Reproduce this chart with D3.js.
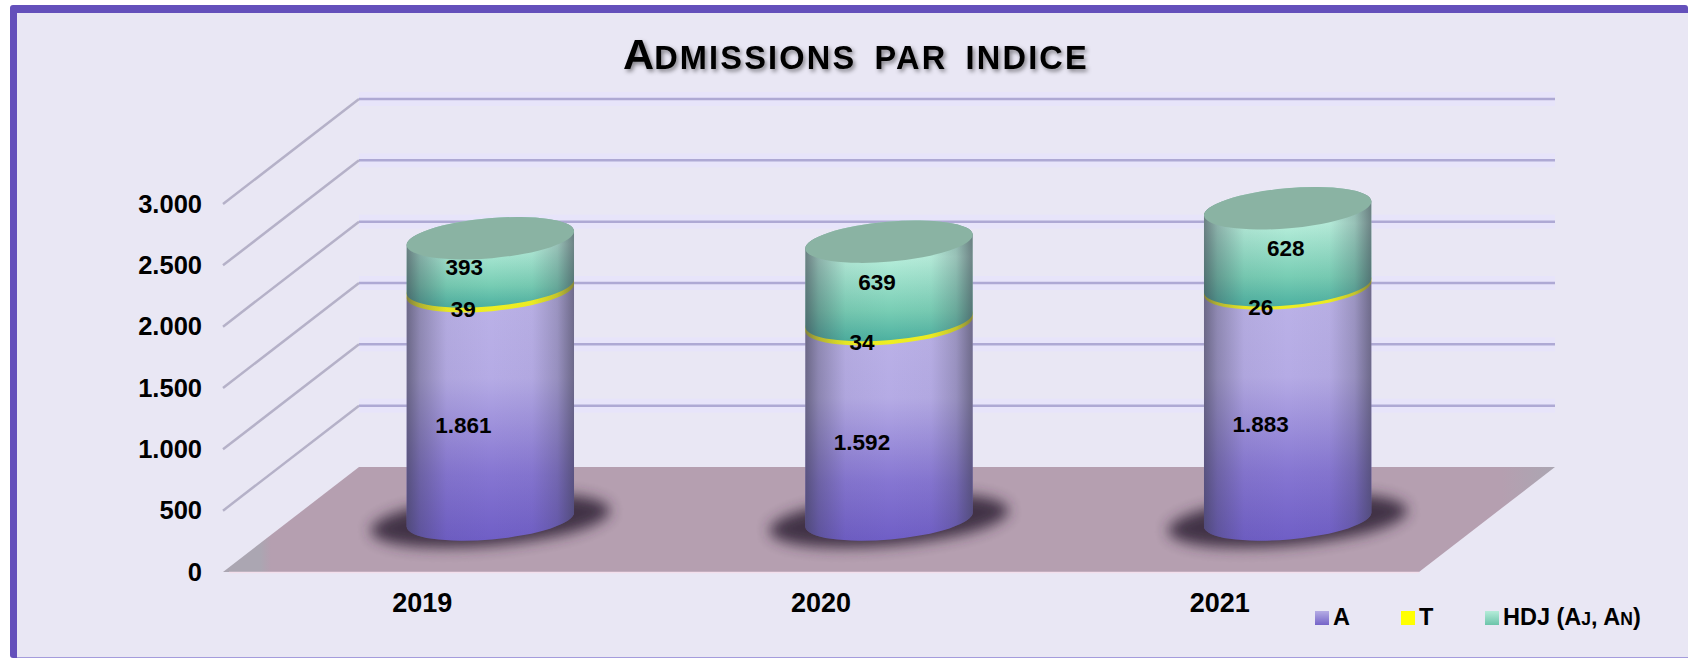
<!DOCTYPE html>
<html lang="fr">
<head>
  <meta charset="UTF-8">
  <title>Admissions par indice</title>
  <script src="https://d3js.org/d3.v7.min.js"></script>
  <style>
    html, body { margin: 0; background: #ffffff; overflow: hidden; }
    svg { display: block; }
    text { font-family: "Liberation Sans", Arial, sans-serif; font-weight: 700; fill: #000000; }
    .axis text { font-size: 25.5px; }
    .axis.cat text { font-size: 27px; }
    .value { font-size: 22.5px; text-anchor: middle; dominant-baseline: central; }
    .legend text { font-size: 23.5px; }
  </style>
</head>
<body>
  <svg id="chart" width="1688" height="658"></svg>

  <script>
    // data
    const years = ["2019", "2020", "2021"];
    const seriesNames = ["A", "T", "HDJ"];
    const valuesA = [1861, 1592, 1883];
    const valuesT = [39, 34, 26];
    const valuesHDJ = [393, 639, 628];
    const yTicks = [0, 500, 1000, 1500, 2000, 2500, 3000];

    const svg = d3.select("#chart");
    const defs = svg.append("defs");

    // 3d box: the front plane plus an offset for the depth
    const depthX = 136, depthY = -105;
    const x = d3.scaleBand().domain(years).range([223, 1419]);
    const y = d3.scaleLinear().domain([0, 3000]).range([572, 204]);
    const fr = d3.formatLocale({ decimal: ",", thousands: ".", grouping: [3], currency: ["", ""] });
    const fmt = fr.format(",d");

    const rx = 84, ry = 20, tilt = 5;
    const tiltRad = tilt * Math.PI / 180;

    function addGradient(id, stops, horizontal) {
      const g = defs.append("linearGradient").attr("id", id)
        .attr("x1", 0).attr("y1", 0)
        .attr("x2", horizontal ? 1 : 0).attr("y2", horizontal ? 0 : 1);
      stops.forEach(s => g.append("stop").attr("offset", s[0]).attr("stop-color", s[1]).attr("stop-opacity", s[2] === undefined ? 1 : s[2]));
    }

    addGradient("gradA", [[0, "#bdb4e8"], [0.4, "#b5abe5"], [0.75, "#8676d2"], [1, "#6f5ec6"]]);
    addGradient("gradT", [[0, "#f8f81a"], [1, "#eeee24"]]);
    addGradient("gradHDJ", [[0, "#a4d9c6"], [0.3, "#b7eedb"], [0.75, "#78cdb4"], [1, "#4cb0a0"]]);
    addGradient("shade", [[0, "#3c3c4c", 0.62], [0.08, "#3c3c4c", 0.34], [0.24, "#3c3c4c", 0.05], [0.5, "#3c3c4c", 0], [0.75, "#3c3c4c", 0.03], [0.9, "#3c3c4c", 0.25], [1, "#3c3c4c", 0.6]], true);
    addGradient("floorFill", [[0, "#aba6b2"], [0.028, "#aba6b2"], [0.036, "#b59fb0"], [0.96, "#b59fb0"], [1, "#aba6b2"]], true);
    addGradient("swA", [[0, "#b5ace4"], [1, "#7564c8"]]);
    addGradient("swHDJ", [[0, "#b5ecd9"], [1, "#6cc4aa"]]);

    defs.append("filter").attr("id", "shadowBlur").attr("x", "-20%").attr("y", "-50%").attr("width", "140%").attr("height", "200%")
      .append("feGaussianBlur").attr("stdDeviation", 7);
    const ts = defs.append("filter").attr("id", "titleShadow").attr("x", "-5%").attr("y", "-30%").attr("width", "110%").attr("height", "170%");
    ts.append("feDropShadow").attr("dx", 2).attr("dy", 2.5).attr("stdDeviation", 2).attr("flood-color", "#000000").attr("flood-opacity", 0.45);

    // frame
    svg.append("rect").attr("x", 10).attr("y", 5).attr("width", 1678).attr("height", 653).attr("rx", 3).attr("fill", "#6450bb");
    svg.append("rect").attr("x", 17).attr("y", 13).attr("width", 1671).attr("height", 644).attr("fill", "#e9e7f4");
    svg.append("rect").attr("x", 17).attr("y", 657).attr("width", 1671).attr("height", 1).attr("fill", "#a49cdc");

    // title
    const title = svg.append("text").attr("x", 856).attr("y", 69).attr("text-anchor", "middle").attr("filter", "url(#titleShadow)");
    title.append("tspan").attr("font-size", 43).text("A");
    title.append("tspan").attr("font-size", 32.5).attr("letter-spacing", 2.2).attr("word-spacing", 7).text("DMISSIONS PAR INDICE");

    // walls
    const gridTicks = yTicks.filter(d => d > 0);
    const grid = svg.append("g");
    grid.selectAll("path.halo").data(gridTicks).enter().append("path").attr("class", "halo")
      .attr("d", d => `M${x.range()[0] + depthX},${y(d) + depthY}H${x.range()[1] + depthX}`)
      .attr("fill", "none").attr("stroke", "#e7e4fa").attr("stroke-width", 14);
    grid.selectAll("path.back").data(gridTicks).enter().append("path").attr("class", "back")
      .attr("d", d => `M${x.range()[0] + depthX},${y(d) + depthY}H${x.range()[1] + depthX}`)
      .attr("fill", "none").attr("stroke", "#aea9d4").attr("stroke-width", 2.5);
    grid.selectAll("path.side").data(gridTicks).enter().append("path").attr("class", "side")
      .attr("d", d => `M${x.range()[0]},${y(d)}L${x.range()[0] + depthX},${y(d) + depthY}`)
      .attr("fill", "none").attr("stroke", "#b5b1c8").attr("stroke-width", 2.5);

    // floor
    const x0 = x.range()[0], x1 = x.range()[1], y0 = y(0);
    svg.append("path")
      .attr("d", `M${x0},${y0}L${x0 + depthX},${y0 + depthY}H${x1 + depthX}L${x1},${y0}Z`)
      .attr("fill", "url(#floorFill)");
    svg.append("path").attr("d", `M${x0 + 6},${y0 + 0.5}H${x1}`).attr("stroke", "#f3dfec").attr("stroke-width", 1.5);

    // cylinders sit half way into the depth
    const cx = d => x(d) + x.bandwidth() / 2 + depthX / 2;
    const cy = v => y(v) + depthY / 2;
    const dxE = rx * Math.cos(tiltRad), dyE = rx * Math.sin(tiltRad);

    function segment(c, vBottom, vTop) {
      const yb = cy(vBottom), yt = cy(vTop);
      return `M${c - dxE},${yb + dyE}A${rx},${ry} ${-tilt} 0 0 ${c + dxE},${yb - dyE}` +
             `L${c + dxE},${yt - dyE}A${rx},${ry} ${-tilt} 0 0 ${c - dxE},${yt + dyE}Z`;
    }

    const stacked = d3.stack().keys(seriesNames)(years.map((yr, i) => ({
      year: yr, A: valuesA[i], T: valuesT[i], HDJ: valuesHDJ[i]
    })));

    const bars = svg.selectAll("g.bar").data(years).enter().append("g").attr("class", "bar");

    bars.append("ellipse")
      .attr("transform", d => `translate(${cx(d)},${cy(0) + 1}) rotate(${-tilt})`)
      .attr("rx", 120).attr("ry", 25)
      .attr("fill", "#35283a").attr("opacity", 0.9)
      .attr("filter", "url(#shadowBlur)");

    bars.each(function (d, i) {
      const g = d3.select(this);
      stacked.forEach(s => {
        g.append("path").attr("d", segment(cx(d), s[i][0], s[i][1]))
          .attr("fill", `url(#grad${s.key})`);
      });
      const total = stacked[2][i][1];
      g.append("path").attr("d", segment(cx(d), 0, total)).attr("fill", "url(#shade)");
      g.append("ellipse")
        .attr("transform", `translate(${cx(d)},${cy(total)}) rotate(${-tilt})`)
        .attr("rx", rx).attr("ry", ry).attr("fill", "#8ab3a3");
    });

    // value labels, the HDJ ones were moved by hand in the original
    const labelX = 41;
    const hdjShiftX = [1, 15, 25];
    const hdjShiftY = [-15, -19, -19];
    const labelY = v => y(v) - 32;

    stacked.forEach(s => {
      svg.selectAll(`text.v${s.key}`).data(years).enter().append("text")
        .attr("class", `value v${s.key}`)
        .attr("x", (d, i) => x(d) + x.bandwidth() / 2 + labelX + (s.key === "HDJ" ? hdjShiftX[i] : 0))
        .attr("y", (d, i) => labelY((s[i][0] + s[i][1]) / 2) + (s.key === "HDJ" ? hdjShiftY[i] : 0))
        .text((d, i) => fmt(s[i][1] - s[i][0]));
    });

    // axes
    svg.append("g").attr("class", "axis").attr("transform", `translate(${x0 - 21},0)`)
      .call(d3.axisLeft(y).tickValues(yTicks).tickFormat(fmt).tickSize(0).tickPadding(0))
      .call(g => g.select(".domain").remove());
    svg.append("g").attr("class", "axis cat").attr("transform", `translate(0,${y0})`)
      .call(d3.axisBottom(x).tickSize(0).tickPadding(21))
      .call(g => g.select(".domain").remove());

    // legend
    const legendX = [1315, 1401, 1485];
    const swatch = ["url(#swA)", "#ffff00", "url(#swHDJ)"];
    const legend = svg.selectAll("g.legend").data(seriesNames).enter().append("g")
      .attr("class", "legend")
      .attr("transform", (d, i) => `translate(${legendX[i]},611)`);
    legend.append("rect").attr("width", 14).attr("height", 14).attr("fill", (d, i) => swatch[i]);
    const legendText = legend.append("text").attr("x", 18).attr("y", 14);
    legendText.filter(d => d !== "HDJ").text(d => d);
    const hdj = legendText.filter(d => d === "HDJ");
    hdj.append("tspan").text("HDJ (A");
    hdj.append("tspan").attr("font-size", 17.5).text("J");
    hdj.append("tspan").text(", A");
    hdj.append("tspan").attr("font-size", 17.5).text("N");
    hdj.append("tspan").text(")");
  </script>
</body>
</html>
